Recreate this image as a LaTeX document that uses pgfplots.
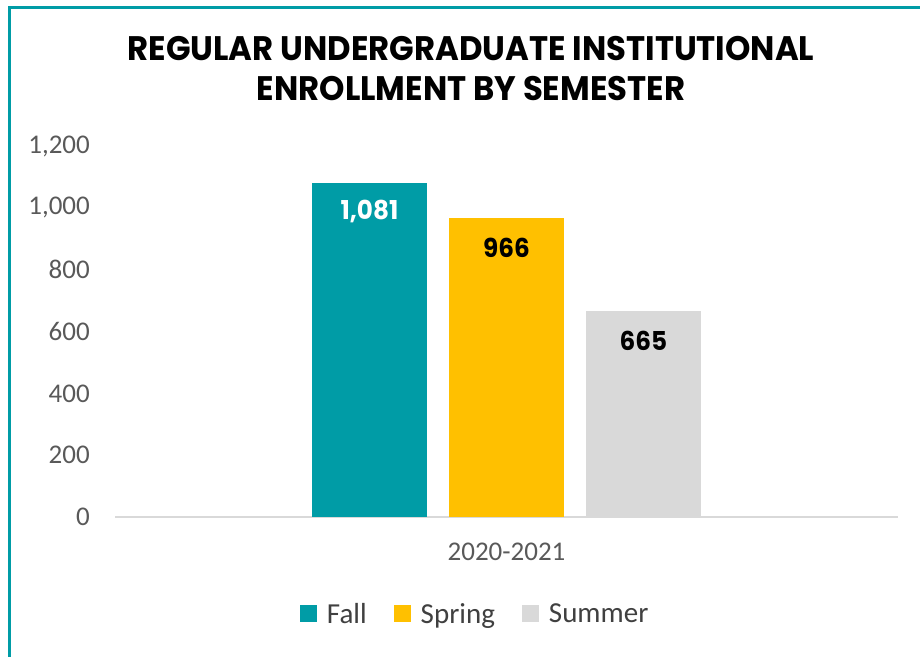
\documentclass[border=0pt]{standalone}
\usepackage{pgfplots}
\pgfplotsset{compat=1.18}
\usepackage{fontspec}
\setmainfont{Carlito}
\newfontfamily\titlefont[FakeStretch=0.95]{Poppins}
\definecolor{teal1}{HTML}{009CA6}
\definecolor{gold1}{HTML}{FFC000}
\definecolor{grey1}{HTML}{D9D9D9}
\definecolor{tickgrey}{HTML}{595959}
\definecolor{leggrey}{HTML}{404040}
\begin{document}
\begin{tikzpicture}[x=1pt,y=1pt]
\path[use as bounding box] (0,0) rectangle (920,-656);
\draw[teal1, line width=3pt] (9,-660) -- (9,-7) -- (925,-7);
\node[font=\titlefont\bfseries\fontsize{34}{40}\selectfont, inner sep=0pt] at (471,-48.5) {REGULAR UNDERGRADUATE INSTITUTIONAL};
\node[font=\titlefont\bfseries\fontsize{34}{40}\selectfont, inner sep=0pt] at (471,-89) {ENROLLMENT BY SEMESTER};
\begin{axis}[
  at={(115pt,-517pt)}, anchor=south west,
  scale only axis, width=783pt, height=371pt,
  ybar=22pt, bar width=115pt,
  xmin=-1, xmax=1, ymin=0, ymax=1200,
  xtick={0}, xticklabels={2020-2021},
  ytick={0,200,...,1200},
  axis x line*=bottom, axis y line*=left,
  y axis line style={draw=none},
  x axis line style={draw=grey1, line width=2pt},
  major tick length=0pt,
  tick label style={font=\fontsize{27}{32}\selectfont, text=tickgrey},
  yticklabel style={anchor=east, inner sep=0pt, xshift=-25pt},
  xticklabel style={anchor=center, inner sep=0pt, yshift=-35pt},
  /pgf/number format/.cd, 1000 sep={,}, assume math mode=true,
  /pgfplots/.cd,
  nodes near coords,
  every node near coord/.append style={font=\titlefont\bfseries\fontsize{26}{30}\selectfont, anchor=center, yshift=-29pt, text=black},
  legend style={at={(0.46,-0.261)}, anchor=center, legend columns=3, draw=none,
    font=\fontsize{29}{34}\selectfont, text=leggrey,
    /tikz/every odd column/.append style={column sep=8pt},
    /tikz/every even column/.append style={column sep=25pt}},
  legend image code/.code={\fill[#1] (0pt,-8.5pt) rectangle (17pt,8.5pt);},
]
\addplot[fill=teal1, draw=none, every node near coord/.append style={text=white}] coordinates {(0,1081)};
\addplot[fill=gold1, draw=none] coordinates {(0,966)};
\addplot[fill=grey1, draw=none] coordinates {(0,665)};
\legend{Fall,Spring,Summer}
\end{axis}
\end{tikzpicture}
\end{document}
